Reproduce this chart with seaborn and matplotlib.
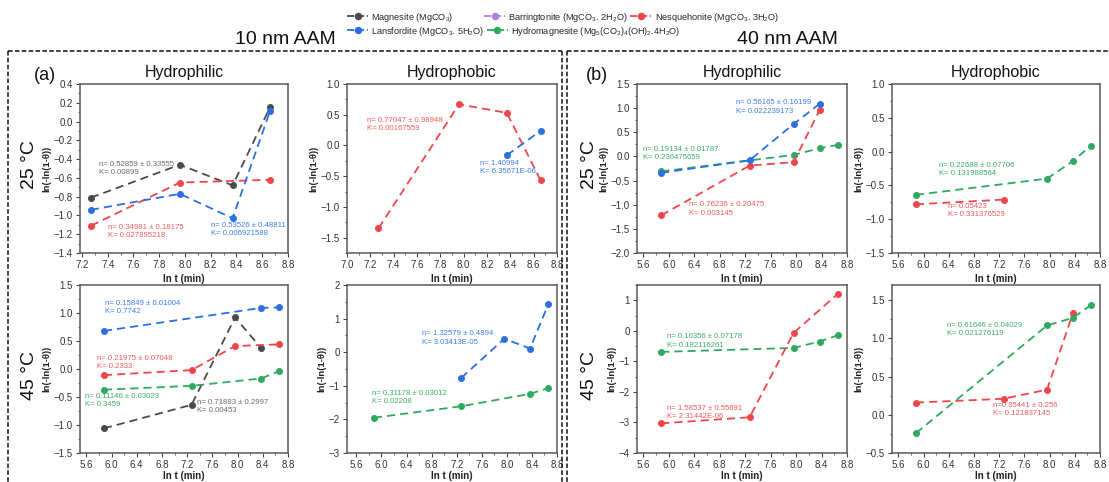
import matplotlib
matplotlib.use("Agg")
import matplotlib.pyplot as plt
from matplotlib.lines import Line2D
from matplotlib.ticker import MultipleLocator, AutoMinorLocator
import seaborn as sns

# ---------------- data ----------------
# (a) 10 nm AAM, 25 °C, hydrophilic
a25phi_mag_x = [7.27, 7.96, 8.37, 8.66]
a25phi_mag_y = [-0.81, -0.46, -0.68, 0.15]
a25phi_lan_x = [7.27, 7.96, 8.37, 8.66]
a25phi_lan_y = [-0.94, -0.77, -1.03, 0.11]
a25phi_nes_x = [7.27, 7.96, 8.66]
a25phi_nes_y = [-1.11, -0.65, -0.62]
# (a) 10 nm AAM, 25 °C, hydrophobic
a25pho_nes_x = [7.27, 7.96, 8.37, 8.66]
a25pho_nes_y = [-1.35, 0.67, 0.53, -0.57]
a25pho_lan_x = [8.37, 8.66]
a25pho_lan_y = [-0.16, 0.24]
# (a) 10 nm AAM, 45 °C, hydrophilic
a45phi_lan_x = [5.88, 8.37, 8.66]
a45phi_lan_y = [0.68, 1.09, 1.10]
a45phi_nes_x = [5.88, 7.27, 7.96, 8.66]
a45phi_nes_y = [-0.11, -0.02, 0.41, 0.44]
a45phi_hyd_x = [5.88, 7.27, 8.37, 8.66]
a45phi_hyd_y = [-0.37, -0.30, -0.17, -0.04]
a45phi_mag_x = [5.88, 7.27, 7.96, 8.37]
a45phi_mag_y = [-1.06, -0.64, 0.92, 0.38]
# (a) 10 nm AAM, 45 °C, hydrophobic
a45pho_lan_x = [7.27, 7.96, 8.37, 8.66]
a45pho_lan_y = [-0.77, 0.40, 0.11, 1.42]
a45pho_hyd_x = [5.88, 7.27, 8.37, 8.66]
a45pho_hyd_y = [-1.95, -1.61, -1.24, -1.07]
# (b) 40 nm AAM, 25 °C, hydrophilic
b25phi_lan_x = [5.88, 7.27, 7.96, 8.37]
b25phi_lan_y = [-0.34, -0.08, 0.67, 1.09]
b25phi_nes_x = [5.88, 7.27, 7.96, 8.37]
b25phi_nes_y = [-1.22, -0.19, -0.12, 0.96]
b25phi_hyd_x = [5.88, 7.96, 8.37, 8.66]
b25phi_hyd_y = [-0.31, 0.03, 0.17, 0.24]
# (b) 40 nm AAM, 25 °C, hydrophobic
b25pho_hyd_x = [5.88, 7.96, 8.37, 8.66]
b25pho_hyd_y = [-0.64, -0.40, -0.14, 0.09]
b25pho_nes_x = [5.88, 7.27]
b25pho_nes_y = [-0.78, -0.71]
# (b) 40 nm AAM, 45 °C, hydrophilic
b45phi_nes_x = [5.88, 7.27, 7.96, 8.66]
b45phi_nes_y = [-3.03, -2.83, -0.07, 1.22]
b45phi_hyd_x = [5.88, 7.96, 8.37, 8.66]
b45phi_hyd_y = [-0.69, -0.56, -0.35, -0.14]
# (b) 40 nm AAM, 45 °C, hydrophobic
b45pho_hyd_x = [5.88, 7.96, 8.37, 8.66]
b45pho_hyd_y = [-0.24, 1.17, 1.27, 1.44]
b45pho_nes_x = [5.88, 7.27, 7.96, 8.37]
b45pho_nes_y = [0.16, 0.21, 0.33, 1.33]

legend_labels = {
    "mag": "Magnesite (MgCO$_3$)",
    "bar": "Barringtonite (MgCO$_3$. 2H$_2$O)",
    "nes": "Nesquehonite (MgCO$_3$. 3H$_2$O)",
    "lan": "Lansfordite (MgCO$_3$. 5H$_2$O)",
    "hyd": "Hydromagnesite (Mg$_5$(CO$_3$)$_4$(OH)$_2$.4H$_2$O)",
}

# ---------------- style ----------------
sns.set_theme(style="ticks")
plt.rcParams["font.family"] = ["Liberation Sans", "DejaVu Sans"]
plt.rcParams["mathtext.fontset"] = "custom"
plt.rcParams["mathtext.rm"] = "Liberation Sans"
plt.rcParams["axes.unicode_minus"] = True

C = {"mag": "#4a4a4a", "bar": "#b27fe3", "nes": "#f0454a",
     "lan": "#2c6fe2", "hyd": "#2fa860"}
T = {"mag": "#6a6a6a", "bar": "#b27fe3", "nes": "#f05a5e",
     "lan": "#3c7fe8", "hyd": "#3cae6a"}

W, H = 1109, 482
fig = plt.figure(figsize=(W / 100, H / 100), dpi=100)


def rect(l, r, t, b):
    return [l / W, 1 - b / H, (r - l) / W, (b - t) / H]


def series(ax, x, y, key):
    sns.lineplot(x=x, y=y, ax=ax, color=C[key], linestyle=(0, (4.5, 2.8)),
                 linewidth=1.3, marker="o", markersize=4.4,
                 markeredgecolor=C[key], markeredgewidth=0.6,
                 errorbar=None, sort=False, legend=False)


def note(ax, x, y, txt, key):
    ax.text(x, y, txt, color=T[key], fontsize=5.6, va="top", ha="left",
            linespacing=1.25)


def style(ax, xlim, ylim, xstep, ystep, xminor, yminor, title=None, xpad=3):
    ax.set_xlim(*xlim)
    ax.set_ylim(*ylim)
    ax.xaxis.set_major_locator(MultipleLocator(xstep))
    ax.yaxis.set_major_locator(MultipleLocator(ystep))
    ax.xaxis.set_minor_locator(AutoMinorLocator(xminor))
    ax.yaxis.set_minor_locator(AutoMinorLocator(yminor))
    for sp in ax.spines.values():
        sp.set_visible(True)
        sp.set_color("#5a5a5a")
        sp.set_linewidth(1.1)
    ax.tick_params(which="major", direction="out", length=3, width=0.8,
                   color="#444", labelsize=7, labelcolor="#333", pad=2)
    ax.tick_params(which="minor", direction="out", length=1.6, width=0.6,
                   color="#444")
    ax.set_xlabel("ln t (min)", fontsize=7, fontweight="bold", labelpad=xpad,
                  color="#222")
    ax.set_ylabel("ln(-ln(1-θ))", fontsize=6.8, fontweight="bold", labelpad=2,
                  color="#222")
    ax.set_facecolor("white")
    ax.grid(False)
    if title:
        ax.set_title(title, fontsize=11.5, pad=5, color="#111")


cols = [(80, 288), (347, 557), (637, 847), (892, 1100)]
top_row = (84, 253)
bot_row = (285, 453)

# ---- (a) 25 °C hydrophilic
ax = fig.add_axes(rect(*cols[0], *top_row))
series(ax, a25phi_mag_x, a25phi_mag_y, "mag")
series(ax, a25phi_nes_x, a25phi_nes_y, "nes")
series(ax, a25phi_lan_x, a25phi_lan_y, "lan")
note(ax, 7.33, -0.42, "n= 0.52859 ± 0.33555\nK= 0.00899", "mag")
note(ax, 7.40, -1.09, "n= 0.34981 ± 0.18175\nK= 0.027895218", "nes")
note(ax, 8.20, -1.07, "n= 0.53526 ± 0.48811\nK= 0.006921588", "lan")
style(ax, (7.185, 8.8), (-1.4, 0.4), 0.2, 0.2, 2, 2, "Hydrophilic")

# ---- (a) 25 °C hydrophobic
ax = fig.add_axes(rect(*cols[1], *top_row))
series(ax, a25pho_nes_x, a25pho_nes_y, "nes")
series(ax, a25pho_lan_x, a25pho_lan_y, "lan")
note(ax, 7.17, 0.47, "n= 0.77047 ± 0.98948\nK= 0.00167559", "nes")
note(ax, 8.14, -0.24, "n= 1.40994\nK= 6.35671E-06", "lan")
style(ax, (7.0, 8.8), (-1.75, 1.0), 0.2, 0.5, 2, 2, "Hydrophobic")

# ---- (a) 45 °C hydrophilic
ax = fig.add_axes(rect(*cols[0], *bot_row))
series(ax, a45phi_mag_x, a45phi_mag_y, "mag")
series(ax, a45phi_hyd_x, a45phi_hyd_y, "hyd")
series(ax, a45phi_nes_x, a45phi_nes_y, "nes")
series(ax, a45phi_lan_x, a45phi_lan_y, "lan")
note(ax, 5.89, 1.23, "n= 0.15849 ± 0.01004\nK= 0.7742", "lan")
note(ax, 5.77, 0.25, "n= 0.21975 ± 0.07048\nK= 0.2333", "nes")
note(ax, 5.58, -0.43, "n= 0.11146 ± 0.03023\nK= 0.3459", "hyd")
note(ax, 7.36, -0.53, "n= 0.71883 ± 0.2997\nK= 0.00453", "mag")
style(ax, (5.5, 8.8), (-1.5, 1.5), 0.4, 0.5, 2, 2, xpad=1)

# ---- (a) 45 °C hydrophobic
ax = fig.add_axes(rect(*cols[1], *bot_row))
series(ax, a45pho_hyd_x, a45pho_hyd_y, "hyd")
series(ax, a45pho_lan_x, a45pho_lan_y, "lan")
note(ax, 6.65, 0.65, "n= 1.32579 ± 0.4894\nK= 3.03413E-05", "lan")
note(ax, 5.85, -1.12, "n= 0.31178 ± 0.03012\nK= 0.02208", "hyd")
style(ax, (5.45, 8.8), (-3, 2), 0.4, 1, 2, 2, xpad=1)

# ---- (b) 25 °C hydrophilic
ax = fig.add_axes(rect(*cols[2], *top_row))
series(ax, b25phi_hyd_x, b25phi_hyd_y, "hyd")
series(ax, b25phi_nes_x, b25phi_nes_y, "nes")
series(ax, b25phi_lan_x, b25phi_lan_y, "lan")
note(ax, 7.05, 1.18, "n= 0.56165 ± 0.16199\nK= 0.022239173", "lan")
note(ax, 5.59, 0.22, "n= 0.19134 ± 0.01787\nK= 0.236475659", "hyd")
note(ax, 6.31, -0.93, "n= 0.76236 ± 0.20475\nK= 0.003145", "nes")
style(ax, (5.5, 8.8), (-2.0, 1.5), 0.4, 0.5, 2, 2, "Hydrophilic")

# ---- (b) 25 °C hydrophobic
ax = fig.add_axes(rect(*cols[3], *top_row))
series(ax, b25pho_nes_x, b25pho_nes_y, "nes")
series(ax, b25pho_hyd_x, b25pho_hyd_y, "hyd")
note(ax, 6.24, -0.15, "n= 0.22688 ± 0.07706\nK= 0.131988564", "hyd")
note(ax, 6.39, -0.76, "n= 0.05423\nK= 0.331376529", "nes")
style(ax, (5.5, 8.8), (-1.5, 1.0), 0.4, 0.5, 2, 2, "Hydrophobic")

# ---- (b) 45 °C hydrophilic
ax = fig.add_axes(rect(*cols[2], *bot_row))
series(ax, b45phi_hyd_x, b45phi_hyd_y, "hyd")
series(ax, b45phi_nes_x, b45phi_nes_y, "nes")
note(ax, 5.97, -0.08, "n= 0.16356 ± 0.07178\nK= 0.182116261", "hyd")
note(ax, 5.97, -2.42, "n= 1.58537 ± 0.55691\nK= 2.31442E-06", "nes")
style(ax, (5.5, 8.8), (-4, 1.5), 0.4, 1, 2, 2, xpad=1)

# ---- (b) 45 °C hydrophobic
ax = fig.add_axes(rect(*cols[3], *bot_row))
series(ax, b45pho_nes_x, b45pho_nes_y, "nes")
series(ax, b45pho_hyd_x, b45pho_hyd_y, "hyd")
note(ax, 6.37, 1.22, "n= 0.61646 ± 0.04029\nK= 0.021276119", "hyd")
note(ax, 7.11, 0.17, "n=0.35441 ± 0.256\nK= 0.121837145", "nes")
style(ax, (5.5, 8.8), (-0.5, 1.7), 0.4, 0.5, 2, 2, xpad=1)

# ---------------- figure-level annotations ----------------
def ftext(x, y, s, **kw):
    fig.text(x / W, 1 - y / H, s, ha="center", va="center", **kw)

ftext(285, 39, "10 nm AAM", fontsize=14, color="#111")
ftext(787, 40, "40 nm AAM", fontsize=14, color="#111")
ftext(45, 75, "(a)", fontsize=13, color="#111")
ftext(597, 75, "(b)", fontsize=13, color="#111")
for xc in (30, 590):
    ftext(xc, 165, "25 °C", fontsize=14, rotation=90, color="#111")
    ftext(xc, 375, "45 °C", fontsize=14, rotation=90, color="#111")

# dashed frames
def fline(x0, y0, x1, y1):
    fig.add_artist(Line2D([x0 / W, x1 / W], [1 - y0 / H, 1 - y1 / H],
                          transform=fig.transFigure, color="#111",
                          linestyle=(0, (3, 1.5)), linewidth=1.1))

fline(8, 51, 562, 51)
fline(8, 51, 8, H)
fline(562, 51, 562, H)
fline(567, 51, W, 51)
fline(567, 51, 567, H)

# legend (packed entries, as in the reference)
def handle(key):
    return Line2D([], [], color=C[key], linestyle=(0, (4, 1.5)), linewidth=1.3,
                  marker="o", markersize=4.4, markeredgecolor=C[key])

common = dict(loc="center left", frameon=False, fontsize=6.6, handlelength=2.3,
              handletextpad=0.35, borderpad=0, borderaxespad=0,
              columnspacing=0.25)


def legend_group(keys, x, y):
    fig.legend([handle(k) for k in keys], [legend_labels[k] for k in keys],
               ncol=len(keys), bbox_to_anchor=(x / W, 1 - y / H), **common)


legend_group(["mag"], 347, 17)
legend_group(["bar", "nes"], 484, 17)
legend_group(["lan", "hyd"], 347, 31)

fig.savefig("out.png", dpi=100, facecolor="white")
